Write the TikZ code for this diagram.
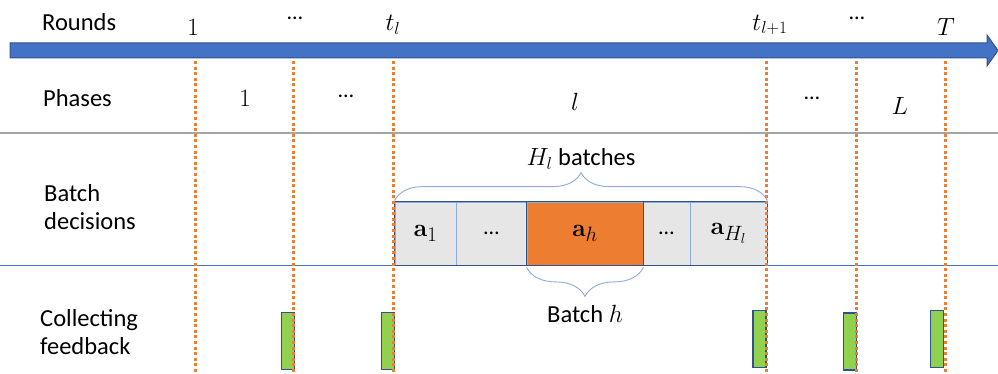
\documentclass[tikz,border=0pt]{standalone}
\usepackage[no-math]{fontspec}
\setmainfont{Carlito}
\usetikzlibrary{decorations.pathreplacing}
\definecolor{axisblue}{HTML}{4472C4}
\definecolor{edgeblue}{HTML}{2F528F}
\definecolor{tickorange}{HTML}{ED7D31}
\definecolor{cellgray}{HTML}{E7E6E6}
\definecolor{barGreen}{HTML}{92D050}
\definecolor{braceblue}{HTML}{8FAADC}
\definecolor{rulegray}{HTML}{A5A5A5}

\tikzset{
  rowlabel/.style={anchor=west, align=left, inner sep=0pt, font=\fontsize{24.5}{27.5}\selectfont},
  mathlabel/.style={inner sep=0pt, font=\fontsize{26}{30}\selectfont},
  dotslabel/.style={inner sep=0pt, font=\fontsize{22}{24}\selectfont},
  cell/.style={draw=braceblue, line width=0.8pt, fill=cellgray, minimum height=63pt, inner sep=0pt, font=\fontsize{28}{32}\selectfont},
  fbbar/.style={draw=edgeblue, line width=1.6pt, fill=barGreen, minimum width=13pt, minimum height=57pt, inner sep=0pt},
  tickline/.style={draw=tickorange, line width=3pt, dash pattern=on 3pt off 2.6pt},
  bracestyle/.style={draw=braceblue, line width=0.9pt, decorate},
}

\begin{document}
\begin{tikzpicture}[x=1pt, y=-1pt]
\useasboundingbox (0,0) rectangle (998,374);

% separators between rows
\draw[rulegray, line width=1.4pt] (0,133) -- (998,133);
\draw[axisblue, line width=1pt] (0,265) -- (998,265);

% time axis
\draw[edgeblue, line width=1pt, fill=axisblue]
  (10,43) -- (987,43) -- (987,35) -- (998,50.5) -- (987,66) -- (987,58) -- (10,58) -- cycle;

% row titles
\node[rowlabel] (rounds) at (42,22) {Rounds};
\node[rowlabel] (phases) at (43,98) {Phases};
\node[rowlabel] (batchdec) at (44,207) {Batch\\decisions};
\node[rowlabel] (collect) at (40,332) {Collecting\\feedback};

% round indices
\node[mathlabel] (r1) at (193,27) {$1$};
\node[dotslabel] (rdots1) at (295,18) {…};
\node[mathlabel] (rtl) at (393,25) {$t_l$};
\node[mathlabel] (rtl1) at (770,25) {$t_{l+1}$};
\node[dotslabel] (rdots2) at (857,18) {…};
\node[mathlabel] (rT) at (946,27) {$T$};

% phase indices
\node[mathlabel] (p1) at (245,98) {$1$};
\node[dotslabel] (pdots1) at (346,96) {…};
\node[mathlabel] (pl) at (575,102) {$l$};
\node[dotslabel] (pdots2) at (812,98) {…};
\node[mathlabel] (pL) at (900,106) {$L$};

% batches of phase l
\node[cell, minimum width=61pt] (c1) at (425.5,233.5) {$\mathbf{a}_1$};
\node[cell, minimum width=71pt, font=\fontsize{22}{24}\selectfont] (c2) at (491.5,233.5) {…};
\node[cell, minimum width=116pt, fill=tickorange] (c3) at (585,233.5) {$\mathbf{a}_h$};
\node[cell, minimum width=47pt, font=\fontsize{22}{24}\selectfont] (c4) at (666.5,233.5) {…};
\node[cell, minimum width=77pt] (c5) at (728.5,233.5) {$\mathbf{a}_{H_l}$};
\draw[edgeblue, line width=1.6pt] (c1.north west) rectangle (c5.south east);
\draw[edgeblue, line width=1.6pt] (c3.north west) rectangle (c3.south east);

% braces
\draw[bracestyle, decoration={brace, amplitude=28pt}]
  ([yshift=1pt]c1.north west) -- ([yshift=1pt]c5.north east)
  node[midway, above=31pt, inner sep=0pt, font=\fontsize{24.5}{28}\selectfont] (hl) {$H_l$ batches};
\draw[bracestyle, decoration={brace, amplitude=29pt}]
  ([yshift=-2pt]c3.south east) -- ([yshift=-2pt]c3.south west)
  node[midway, below=37pt, inner sep=0pt, font=\fontsize{24.5}{28}\selectfont] (bh) {Batch $h$};

% feedback collection moments
\node[fbbar] (f1) at (288,341) {};
\node[fbbar] (f2) at (388,341) {};
\node[fbbar] (f3) at (759.5,339) {};
\node[fbbar] (f4) at (850,341.5) {};
\node[fbbar] (f5) at (937,339) {};

% round boundaries
\foreach \n/\x in {a/195, b/293, c/393, d/766, e/856, f/945} {
  \coordinate (top\n) at (\x,61);
  \coordinate (bot\n) at (\x,374);
  \draw[tickline] (top\n) -- (bot\n);
}
\end{tikzpicture}
\end{document}
